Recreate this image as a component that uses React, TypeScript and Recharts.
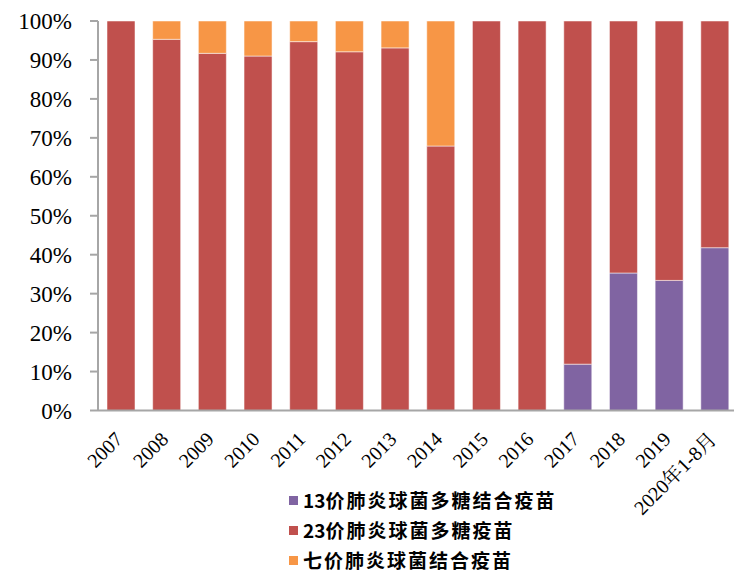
import React from 'react';
import { BarChart, Bar, XAxis, YAxis, Legend } from 'recharts';

const categories = ['2007', '2008', '2009', '2010', '2011', '2012', '2013', '2014', '2015', '2016', '2017', '2018', '2019', '2020年1-8月'];
const pcv13 = [0, 0, 0, 0, 0, 0, 0, 0, 0, 0, 11.9, 35.3, 33.4, 41.8];
const ppv23 = [100, 95.3, 91.7, 91.0, 94.7, 92.1, 93.1, 67.9, 100, 100, 88.1, 64.7, 66.6, 58.2];
const pcv7 = [0, 4.7, 8.3, 9.0, 5.3, 7.9, 6.9, 32.1, 0, 0, 0, 0, 0, 0];
const yTicks = [0, 10, 20, 30, 40, 50, 60, 70, 80, 90, 100];

const legendPrefix = ['13', '23', ''];
const legendRest = ['价肺炎球菌多糖结合疫苗', '价肺炎球菌多糖疫苗', '七价肺炎球菌结合疫苗'];
const colors = ['#8064A2', '#C0504D', '#F79646'];

const data = categories.map((c, i) => ({ name: c, pcv13: pcv13[i], ppv23: ppv23[i], pcv7: pcv7[i] }));

const css = `
.serif-tick, .serif-tick tspan { font-family: "Liberation Serif", "Noto Serif CJK SC", "Noto Sans CJK SC" !important; }
.legend-text { font-family: "Noto Sans CJK SC" !important; font-weight: 700 !important; }
`;

const XTick = (props: any) => {
  const { x, y, payload } = props;
  return (
    <text
      className="serif-tick"
      x={x + 3}
      y={y + 22}
      transform={`rotate(-45, ${x + 3}, ${y + 22})`}
      textAnchor="end"
      fontFamily="Liberation Serif"
      fontSize={20}
      fill="#000"
    >
      {payload.value}
    </text>
  );
};

const YTick = (props: any) => {
  const { x, y, payload } = props;
  return (
    <text className="serif-tick" x={x} y={y} dy={8} textAnchor="end" fontFamily="Liberation Serif" fontSize={23} fill="#000">
      {`${payload.value}%`}
    </text>
  );
};

const LegendContent = () => (
  <div style={{ display: 'flex', flexDirection: 'column' }}>
    {legendRest.map((n, i) => (
      <div key={n} style={{ display: 'flex', alignItems: 'center', height: 30 }}>
        <span style={{ width: 9, height: 9, background: colors[i], display: 'inline-block', marginRight: 5 }} />
        <span
          className="legend-text"
          style={{
            fontSize: 19,
            color: '#000',
            whiteSpace: 'nowrap',
            lineHeight: '20px',
          }}
        >
          {legendPrefix[i]}
          <span style={{ letterSpacing: 2 }}>{n}</span>
        </span>
      </div>
    ))}
  </div>
);

export default function App() {
  return (
    <div style={{ position: 'absolute', left: 0, top: 0, width: 734, height: 570, overflow: 'hidden', background: '#fff' }}>
      <style>{css}</style>
      <BarChart
        width={745}
        height={570}
        data={data}
        margin={{ top: 21, right: 7.5, left: 0, bottom: 99.5 }}
        barSize={28}
      >
        <XAxis
          dataKey="name"
          interval={0}
          height={60}
          tick={<XTick />}
          tickLine={false}
          axisLine={{ stroke: '#A6A6A6', strokeWidth: 2 }}
        />
        <YAxis
          width={98}
          domain={[0, 100]}
          ticks={yTicks}
          interval={0}
          tickSize={8}
          tickMargin={18}
          tickLine={{ stroke: '#A6A6A6', strokeWidth: 2 }}
          axisLine={{ stroke: '#A6A6A6', strokeWidth: 2 }}
          tick={<YTick />}
        />
        <Legend
          layout="vertical"
          align="center"
          verticalAlign="middle"
          content={<LegendContent />}
          wrapperStyle={{ top: 485, left: 289, width: 400 }}
        />
        <Bar dataKey="pcv13" stackId="a" fill={colors[0]} stroke="#fff" strokeOpacity={0.5} strokeWidth={1} isAnimationActive={false} />
        <Bar dataKey="ppv23" stackId="a" fill={colors[1]} stroke="#fff" strokeOpacity={0.5} strokeWidth={1} isAnimationActive={false} />
        <Bar dataKey="pcv7" stackId="a" fill={colors[2]} stroke="#fff" strokeOpacity={0.5} strokeWidth={1} isAnimationActive={false} />
      </BarChart>
    </div>
  );
}
